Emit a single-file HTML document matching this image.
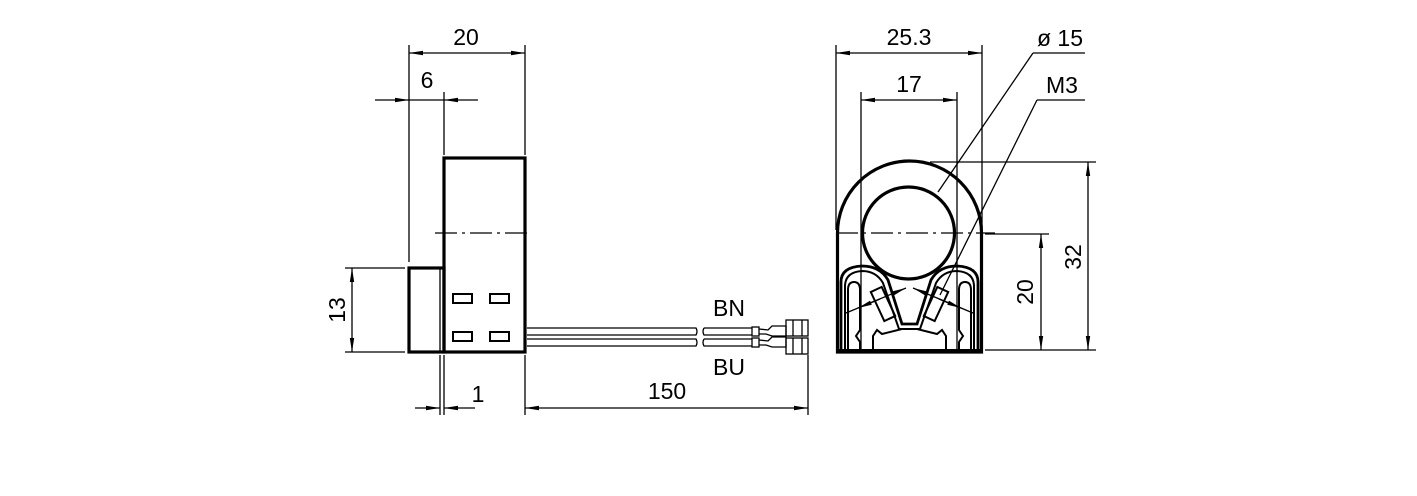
<!DOCTYPE html>
<html><head><meta charset="utf-8"><style>
html,body{margin:0;padding:0;background:#fff;}
svg{display:block;}
text{font-family:"Liberation Sans",sans-serif;font-size:23px;fill:#000;}
</style></head><body>
<svg width="1417" height="496" viewBox="0 0 1417 496" xmlns="http://www.w3.org/2000/svg">
<defs>
<marker id="a" viewBox="0 0 14 6" refX="14" refY="3" markerWidth="14" markerHeight="6" markerUnits="userSpaceOnUse" orient="auto-start-reverse">
<path d="M0,0.8 L14,3 L0,5.2 Z" fill="#000"/></marker>
</defs>
<g stroke="#000" stroke-width="1.3" fill="none">
<!-- left view dims -->
<line x1="409" y1="45" x2="409" y2="262"/>
<line x1="525" y1="45" x2="525" y2="155"/>
<line x1="409" y1="53" x2="525" y2="53" marker-start="url(#a)" marker-end="url(#a)"/>
<line x1="444" y1="92" x2="444" y2="155"/>
<line x1="375" y1="100" x2="409" y2="100" marker-end="url(#a)"/>
<line x1="478" y1="100" x2="444" y2="100" marker-end="url(#a)"/>
<line x1="409" y1="100" x2="444" y2="100"/>
<line x1="345" y1="268" x2="405" y2="268"/>
<line x1="345" y1="352" x2="405" y2="352"/>
<line x1="352" y1="268" x2="352" y2="352" marker-start="url(#a)" marker-end="url(#a)"/>
<line x1="440" y1="355" x2="440" y2="415"/>
<line x1="444" y1="355" x2="444" y2="415"/>
<line x1="415" y1="408" x2="440" y2="408" marker-end="url(#a)"/>
<line x1="475" y1="408" x2="444" y2="408" marker-end="url(#a)"/>
<line x1="525" y1="355" x2="525" y2="415"/>
<line x1="808" y1="355" x2="808" y2="415"/>
<line x1="525" y1="408" x2="808" y2="408" marker-start="url(#a)" marker-end="url(#a)"/>
<line x1="435" y1="233" x2="530" y2="233" stroke-dasharray="22,5,3,5"/>
<line x1="440" y1="268" x2="440" y2="352"/>
<!-- wires -->
<path d="M527,328 H696 Q698,331.5 696,335 H527"/>
<path d="M527,339 H696 Q698,342.5 696,346 H527"/>
<path d="M704,328 Q702,331.5 704,335 H752 M704,339 Q702,342.5 704,346 H752"/>
<path d="M704,328 H752"/>
<path d="M704,339 H752"/>
<rect x="752" y="327" width="7" height="9"/>
<rect x="752" y="338" width="7" height="9"/>
<path d="M759,329 L768,330 L772,326 L786,326 L786,336 L772,336 L766,334 L759,334"/>
<path d="M759,340 L768,341 L772,337 L786,337 L786,347 L772,347 L766,345 L759,345"/>
<rect x="786" y="320" width="22" height="16"/>
<rect x="786" y="338" width="22" height="16"/>
<line x1="793" y1="320" x2="793" y2="336"/><line x1="802" y1="320" x2="802" y2="336"/>
<line x1="793" y1="338" x2="793" y2="354"/><line x1="802" y1="338" x2="802" y2="354"/>
<!-- right view dims -->
<line x1="836" y1="45" x2="836" y2="230"/>
<line x1="982" y1="45" x2="982" y2="230"/>
<line x1="836" y1="53" x2="982" y2="53" marker-start="url(#a)" marker-end="url(#a)"/>
<line x1="861" y1="92" x2="861" y2="352"/>
<line x1="957" y1="92" x2="957" y2="352"/>
<line x1="861" y1="100" x2="957" y2="100" marker-start="url(#a)" marker-end="url(#a)"/>
<line x1="930" y1="162" x2="1096" y2="162"/>
<line x1="985" y1="350" x2="1096" y2="350"/>
<line x1="1088" y1="162" x2="1088" y2="350" marker-start="url(#a)" marker-end="url(#a)"/>
<line x1="985" y1="234" x2="1049" y2="234"/>
<line x1="1041" y1="234" x2="1041" y2="350" marker-start="url(#a)" marker-end="url(#a)"/>
<line x1="836" y1="233" x2="995" y2="233" stroke-dasharray="22,5,3,5"/>
<line x1="1033" y1="53" x2="1085" y2="53"/>
<line x1="1033" y1="53" x2="938" y2="192"/>
<line x1="1037" y1="100" x2="1085" y2="100"/>
<line x1="1037" y1="100" x2="940" y2="295"/>
</g>
<g stroke="#000" stroke-width="2" fill="none">
<rect x="453" y="294" width="19" height="9"/>
<rect x="490" y="294" width="19" height="9"/>
<rect x="453" y="332" width="19" height="9"/>
<rect x="490" y="332" width="19" height="9"/>
</g>
<g stroke="#000" stroke-width="3.2" fill="none">
<rect x="444" y="158" width="81" height="194"/>
<rect x="409" y="268" width="35" height="84"/>
<path d="M837.5,352 V233 A72,72 0 0 1 981.5,233 V352 Z"/>
<circle cx="908.5" cy="233" r="46"/>
<path d="M841,352 V282 Q841,267 862,266 Q880,266 888,280 L902,324 L917,324 L931,280 Q939,266 957,266 Q978,267 978,282 V352" stroke-width="2.8"/>
</g>
<g stroke="#000" stroke-width="2" fill="none">
<path d="M845,352 V285 Q846,272 862,271 Q876,271 883,283 L899,329 L920,329 L936,283 Q943,271 957,271 Q973,272 974,285 V352"/>
<path d="M848,345 V290 Q848,282 854,282 Q860,282 860,290 V330 L856,336 L860,342 V352 M848,345 V352"/>
<path d="M971,345 V290 Q971,282 965,282 Q959,282 959,290 V330 L963,336 L959,342 V352 M971,345 V352"/>
<path d="M873,352 V336 L877,330 L882,334 L902,329 L917,329 L937,334 L942,330 L946,336 V352"/>
<rect x="877" y="288" width="12" height="32" transform="rotate(-25 883 304)"/>
<rect x="930" y="288" width="12" height="32" transform="rotate(25 936 304)"/>
</g>
<g stroke="#000" stroke-width="1.3" fill="none">
<line x1="846" y1="313" x2="906" y2="288" marker-end="url(#a)"/>
<line x1="880" y1="299" x2="858" y2="308" marker-end="url(#a)"/>
<line x1="973" y1="313" x2="913" y2="288" marker-end="url(#a)"/>
<line x1="939" y1="299" x2="961" y2="308" marker-end="url(#a)"/>
</g>
<line x1="836" y1="351" x2="983" y2="351" stroke="#000" stroke-width="4"/>
<text x="466" y="45" text-anchor="middle">20</text>
<text x="427" y="88" text-anchor="middle">6</text>
<text x="478" y="402" text-anchor="middle">1</text>
<text x="667" y="399" text-anchor="middle">150</text>
<text x="729" y="316" text-anchor="middle">BN</text>
<text x="729" y="375" text-anchor="middle">BU</text>
<text x="909" y="45" text-anchor="middle">25.3</text>
<text x="909" y="92" text-anchor="middle">17</text>
<text x="1060" y="46" text-anchor="middle">ø 15</text>
<text x="1062" y="93" text-anchor="middle">M3</text>
<text transform="translate(345,310) rotate(-90)" text-anchor="middle">13</text>
<text transform="translate(1033,292) rotate(-90)" text-anchor="middle">20</text>
<text transform="translate(1081,257) rotate(-90)" text-anchor="middle">32</text>
</svg>
</body></html>
